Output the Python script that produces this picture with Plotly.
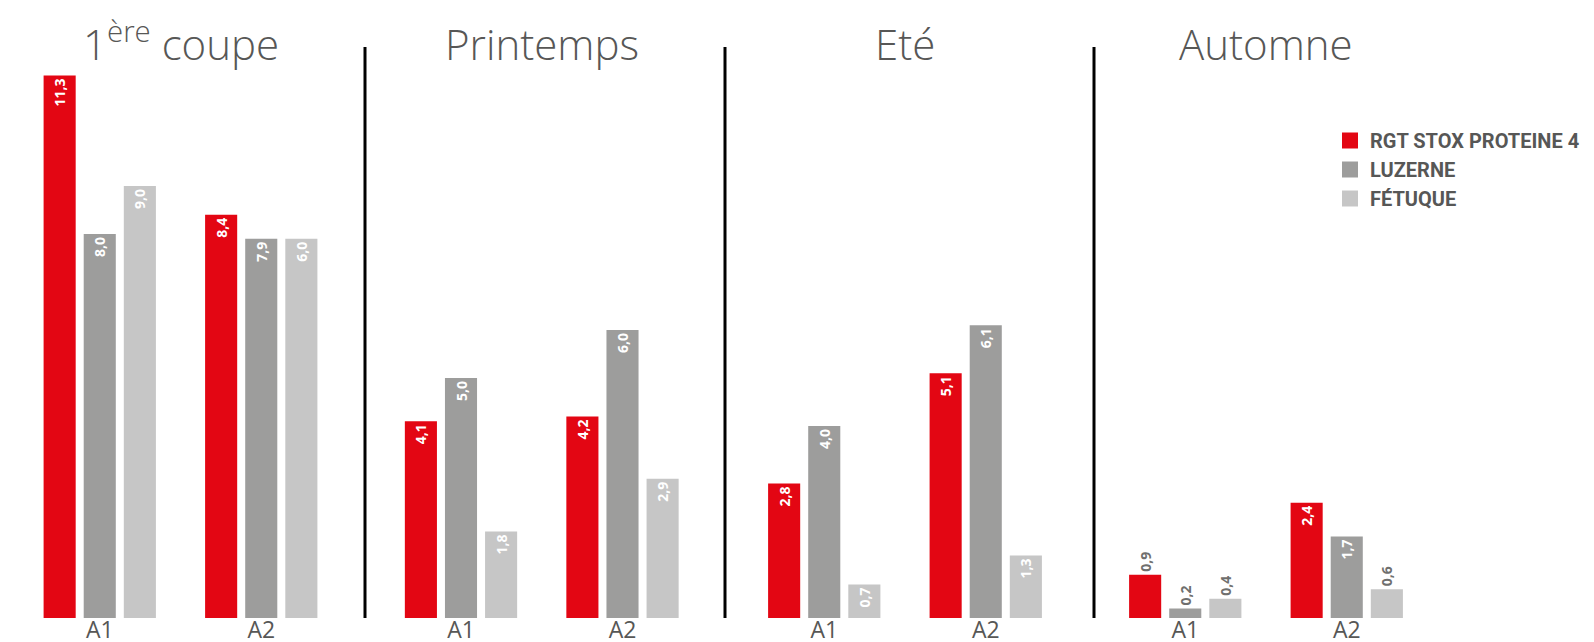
import plotly.graph_objects as go

# ---------------- data ----------------
seasons = ["1<sup>ère</sup> coupe", "Printemps", "Eté", "Automne"]
groups = ["A1", "A2"]
series_names = ["RGT STOX PROTEINE 4", "LUZERNE", "FÉTUQUE"]

rgt_stox = [[11.3, 8.4], [4.1, 4.2], [2.8, 5.1], [0.9, 2.4]]
luzerne = [[8.0, 7.9], [5.0, 6.0], [4.0, 6.1], [0.2, 1.7]]
fetuque = [[9.0, 7.9], [1.8, 2.9], [0.7, 1.3], [0.4, 0.6]]
# printed labels (the original prints 6,0 on the bar drawn at 7,9 height)
fetuque_labels = [[9.0, 6.0], [1.8, 2.9], [0.7, 1.3], [0.4, 0.6]]

# ---------------- style ----------------
W, H = 1594, 642
colors = ["#E30613", "#9D9D9C", "#C6C6C6"]
text_grey = "#575756"
plot_top, plot_bottom = 39, 610
px_per_unit = 48.0
panel_centers = [172.5, 533.75, 897.0, 1258.0]
px_per_cat = 161.5
panel_half = 172.5
separators_px = [357, 717, 1086]

def fmt(v):
    return f"{v:.1f}".replace(".", ",")

fig = go.Figure()
all_series = [rgt_stox, luzerne, fetuque]
all_labels = [rgt_stox, luzerne, fetuque_labels]

for k in range(len(seasons)):
    xa = "x" if k == 0 else f"x{k+1}"
    for s in range(3):
        vals = all_series[s][k]
        labs = all_labels[s][k]
        positions = ["outside" if (k == 3 and v < 1) else "inside" for v in vals]
        fig.add_trace(go.Bar(
            x=groups, y=vals, xaxis=xa, yaxis="y",
            name=series_names[s], legendgroup=series_names[s], showlegend=False,
            marker=dict(color=colors[s], line=dict(width=0)),
            text=[fmt(v) for v in labs], textposition=positions,
            textangle=-90, insidetextanchor="end",
            textfont=dict(family="Open Sans", size=14, weight="bold"),
            insidetextfont=dict(color="white", family="Open Sans", size=14, weight="bold"),
            outsidetextfont=dict(color="#6F6F6E", family="Open Sans", size=14, weight="bold"),
            cliponaxis=False, constraintext="none",
            hovertemplate="%{x}: %{y}<extra>" + series_names[s] + "</extra>",
        ))

# legend proxies
for s in range(3):
    fig.add_trace(go.Scatter(
        x=[None], y=[None], xaxis="x4", yaxis="y", mode="markers",
        name=series_names[s], legendgroup=series_names[s],
        marker=dict(symbol="square", size=19, color=colors[s]),
        showlegend=True,
    ))

plot_h = plot_bottom - plot_top
layout = dict(
    width=W, height=H,
    margin=dict(l=0, r=0, t=plot_top, b=H - plot_bottom, autoexpand=False),
    paper_bgcolor="white", plot_bgcolor="white",
    barmode="group", bargap=0.255, bargroupgap=0.2,
    separators=",.",
    showlegend=True,
    legend=dict(
        x=1322 / W, xanchor="left",
        y=(plot_bottom - 113) / plot_h, yanchor="top",
        font=dict(family="Roboto, sans-serif", size=20,
                  color=text_grey, weight="bold"),
        bgcolor="rgba(0,0,0,0)", borderwidth=0,
        itemsizing="trace", tracegroupgap=0,
    ),
    yaxis=dict(range=[0, plot_h / px_per_unit], visible=False, domain=[0, 1]),
)

for k in range(len(seasons)):
    key = "xaxis" if k == 0 else f"xaxis{k+1}"
    c = panel_centers[k]
    d0 = (c - panel_half) / W
    d1 = (c + panel_half) / W
    half_units = panel_half / px_per_cat
    layout[key] = dict(
        type="category", domain=[max(0, d0), min(1, d1)],
        range=[0.5 - half_units, 0.5 + half_units],
        anchor="y", showgrid=False, zeroline=False, showline=False,
        ticks="", automargin=False, ticklabelstandoff=-4,
        tickfont=dict(family="Open Sans", size=23, color=text_grey),
    )

fig.update_layout(**layout)

# season titles
for k, name in enumerate(seasons):
    fig.add_annotation(
        text=name, xref="paper", yref="paper",
        x=panel_centers[k] / W, xanchor="center",
        y=(plot_bottom - 66) / plot_h, yanchor="bottom",
        showarrow=False,
        font=dict(family="Open Sans", size=42, color=text_grey, weight=300),
    )

# vertical separators
for xp in separators_px:
    fig.add_shape(
        type="line", xref="paper", yref="paper",
        x0=xp / W, x1=xp / W, y0=0, y1=1,
        line=dict(color="black", width=3),
    )

fig.write_html("out.html")
